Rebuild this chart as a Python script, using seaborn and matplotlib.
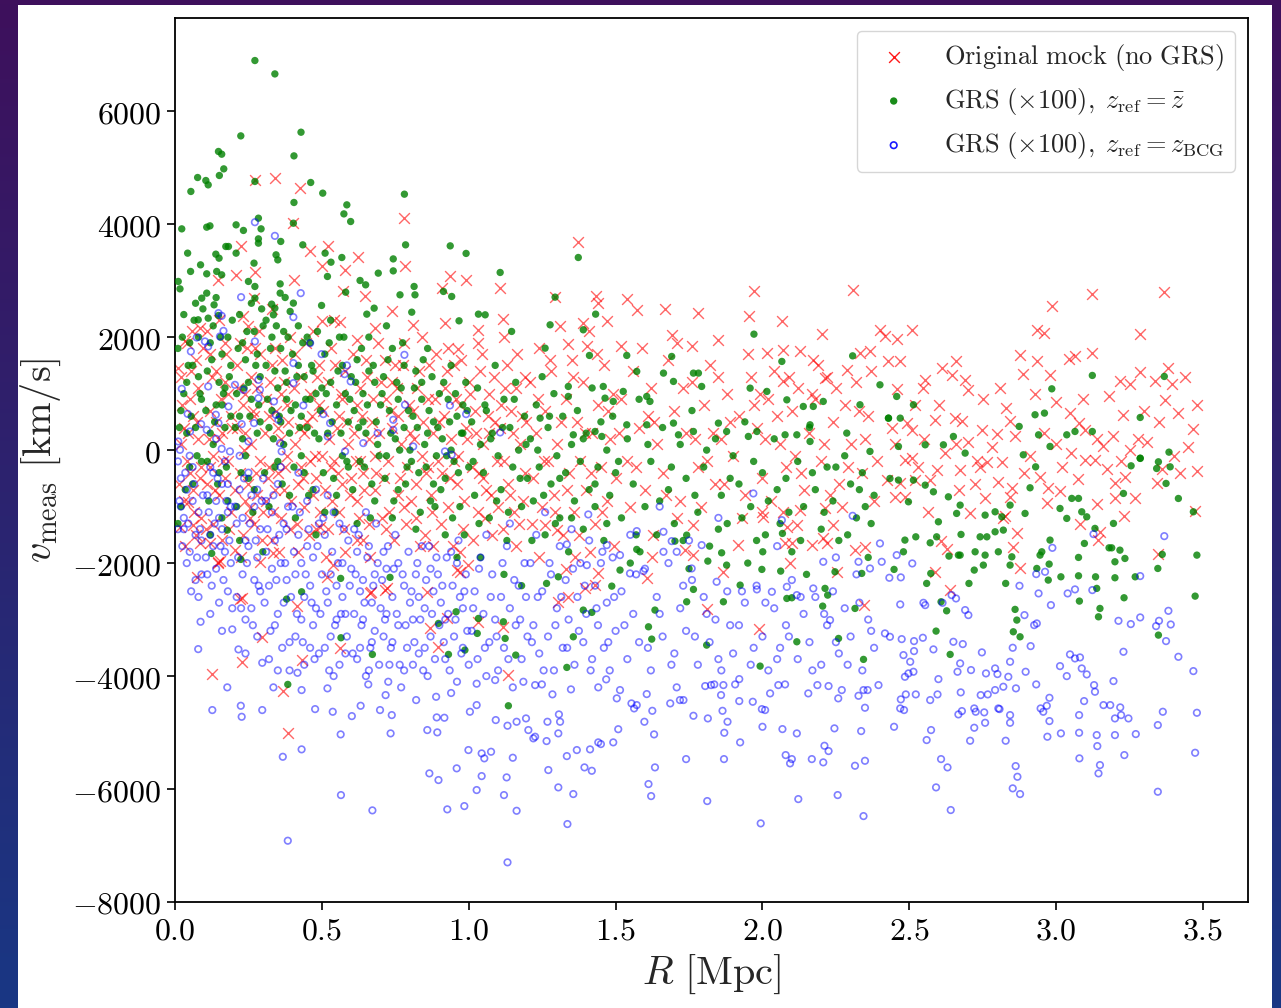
import numpy as np
import matplotlib
matplotlib.use("Agg")
import matplotlib.pyplot as plt
from matplotlib.patches import Rectangle
from matplotlib.ticker import FuncFormatter
import seaborn as sns

# ---------------- data (R [Mpc], v_meas [km/s]) ----------------
orig_pts = [
 (0.272,4790),(0.340,4814),(0.426,4637),(0.403,4017),(0.781,4106),(0.224,3605),(0.272,3150),(0.208,3092),(0.145,3014),
 (0.460,3517),(0.520,3605),(0.499,3251),(0.579,3191),(0.622,3410),(0.405,3003),(0.573,2809),(0.647,2720),(0.783,3251),
 (0.936,3074),(0.991,3014),(0.908,2867),(1.107,2867),(1.118,2318),(1.033,2130),(0.965,1793),(0.919,2248),(0.738,2455),
 (0.811,2218),(0.681,2159),(0.619,1952),(0.499,2278),(0.562,2265),(0.233,2366),(0.057,2101),(0.085,2159),(0.034,1924),
 (0.170,1894),(0.272,1805),(0.011,1451),
 (0.384,-5004),(0.127,-3965),(0.227,-3747),(0.297,-3305),(0.431,-3712),(0.367,-4261),(1.135,-3983),(0.221,-2643),
 (0.414,-2762),(0.153,-1965),(0.085,-1652),(0.074,-2243),(0.562,-3510),(0.664,-2537),(0.868,-3156),(0.925,-2980),
 (0.897,-3481),(0.335,-1829),(0.289,-1977),(0.516,-2243),(0.539,-2036),(0.619,-1593),(0.721,-2448),(0.857,-2508),
 (0.959,-2124),(0.119,-1652),(0.204,-1770),(0.045,-915),(0.017,-1357),(0.062,-1328),(0.148,-1977),(0.227,-2626),
 (0.255,-1033),(0.667,-2508),(0.715,-2478),(1.033,-3039),(1.118,-3128),(0.970,-2154),(0.999,-2036),(0.494,-1357),
 (0.02,1300),(0.03,400),(0.04,-200),(0.05,900),(0.06,-700),(0.07,1600),(0.08,200),(0.09,-1200),(0.03,-900),(0.06,600),
 (0.08,1100),(0.05,-400),(0.09,-300),(0.02,100),(0.07,-1500),(0.04,1900),
 (0.11,2100),(0.12,700),(0.13,-100),(0.14,1400),(0.15,-800),(0.16,300),(0.17,-500),(0.18,1000),(0.19,-1100),(0.11,-600),
 (0.12,1700),(0.13,-1300),(0.14,500),(0.15,200),(0.16,-1600),(0.17,1200),(0.18,-200),(0.19,600),(0.15,2300),(0.12,-300),
 (0.21,1500),(0.22,-400),(0.23,800),(0.24,-900),(0.25,2200),(0.26,100),(0.27,-1300),(0.28,1100),(0.29,-200),(0.21,400),
 (0.22,1900),(0.23,-1500),(0.24,300),(0.25,-600),(0.26,1300),(0.27,600),(0.28,-800),(0.29,1700),(0.30,-1100),(0.27,2700),
 (0.24,1000),
 (0.31,900),(0.32,-300),(0.33,1500),(0.34,-700),(0.35,400),(0.36,-1200),(0.37,1200),(0.38,-100),(0.39,2000),(0.31,-900),
 (0.32,600),(0.33,-1600),(0.34,1800),(0.35,-400),(0.36,200),(0.37,-700),(0.38,800),(0.39,-1400),(0.33,2500),(0.36,1000),
 (0.41,100),(0.42,-600),(0.43,1300),(0.44,-1000),(0.45,500),(0.46,-200),(0.47,2100),(0.48,-1400),(0.49,800),(0.41,1700),
 (0.42,-1800),(0.44,300),(0.46,1000),(0.48,-500),(0.50,-100),(0.43,-300),(0.47,-800),(0.49,1500),
 (0.51,-700),(0.52,1200),(0.53,-300),(0.54,2300),(0.55,400),(0.56,-1100),(0.57,900),(0.58,-1800),(0.59,100),(0.52,-1400),
 (0.54,-200),(0.56,600),(0.58,1400),(0.60,-500),(0.53,1800),(0.57,-600),
 (0.61,300),(0.62,-900),(0.63,1100),(0.64,-400),(0.65,1600),(0.66,-1300),(0.67,500),(0.68,-100),(0.69,1900),(0.62,800),
 (0.64,-1600),(0.66,200),(0.68,-700),(0.70,1200),(0.63,-200),
 (0.71,-500),(0.72,900),(0.73,-1100),(0.74,400),(0.75,1500),(0.76,-800),(0.77,100),(0.78,1900),(0.79,-300),(0.72,-1400),
 (0.74,1200),(0.76,600),(0.78,-1000),(0.80,300),
 (0.81,700),(0.82,-600),(0.83,1400),(0.84,-100),(0.85,-1500),(0.86,900),(0.87,-800),(0.88,300),(0.89,1700),(0.82,-1200),
 (0.84,2000),(0.86,-300),(0.88,-1700),(0.90,500),
 (0.91,-400),(0.92,1100),(0.93,-1000),(0.94,200),(0.95,1500),(0.96,-600),(0.97,800),(0.98,-1400),(0.99,400),(0.93,1800),
 (0.95,-200),(0.97,-1800),(1.00,1200),
 (1.01,-300),(1.02,700),(1.03,-1100),(1.04,1400),(1.05,100),(1.06,-700),(1.07,1000),(1.08,-1500),(1.09,500),(1.03,1900),
 (1.05,-500),(1.07,300),(1.10,-1000),
 (1.11,800),(1.12,-200),(1.13,1500),(1.14,-800),(1.15,300),(1.16,1100),(1.17,-1300),(1.18,600),(1.19,-400),(1.12,2000),
 (1.16,-1700),(1.19,1300),
 (1.21,1200),(1.22,-500),(1.23,300),(1.24,1800),(1.25,-1000),(1.26,700),(1.27,-200),(1.28,1400),(1.29,-800),(1.30,100),
 (1.31,2200),(1.32,-1500),(1.33,900),(1.34,-400),(1.35,1600),(1.36,-1100),(1.37,500),(1.38,-200),(1.39,1200),(1.40,-700),
 (1.41,2100),(1.42,300),(1.43,-1300),(1.44,800),(1.45,-300),(1.46,1500),(1.47,-900),(1.48,200),(1.49,1000),(1.50,-500),
 (1.24,-1900),(1.33,-2100),(1.44,2600),
 (1.373,3676),(1.294,2708),(1.432,2720),(1.470,2278),(1.388,2248),(1.339,1876),(1.402,1835),(1.260,-1328),(1.300,-1416),
 (1.305,-2685),(1.339,-2597),(1.396,-2448),(1.430,-2390),(1.362,-1889),(1.413,-1800),(1.441,-2183),
 (1.538,2672),(1.572,2483),(1.668,2501),(1.782,2425),(1.971,2819),(1.954,2366),(2.068,2278),(2.307,2837),(2.204,2058),
 (2.400,2130),(1.850,1952),(1.518,1835),(1.691,2040),(1.759,1835),(2.015,1717),(2.071,1775),(2.128,1747),(2.173,1598),
 (2.366,1747),(2.332,1717),(2.287,1421),(2.213,1274),(2.071,1216),(1.810,-2815),(1.989,-3169),(2.347,-2744),(2.253,-2165),
 (2.094,-2006),(1.867,-2154),(1.608,-2260),(1.623,-1889),(1.736,-1771),(1.765,-1859),(1.629,-1505),(1.918,-1682),
 (2.077,-1653),(2.100,-1653),(2.168,-1682),(2.207,-1564),(2.219,-1653),(2.315,-1771),(2.349,-1712),(2.241,-1328),
 (1.765,-1328),(1.708,-1209),(2.003,-1181),(1.998,-1092),(2.117,-1328),(2.128,-1062),(2.213,-1033),(2.083,-1357),
 (1.52,900),(1.54,-200),(1.56,1400),(1.58,400),(1.60,-700),(1.62,1100),(1.64,100),(1.66,-400),(1.68,1600),(1.70,700),
 (1.72,-900),(1.74,300),(1.76,1200),(1.78,-300),(1.80,800),(1.82,1500),(1.84,-600),(1.86,200),(1.88,1000),(1.90,-100),
 (1.92,600),(1.94,-800),(1.96,1300),(1.98,400),(2.00,-500),(2.02,900),(2.04,1400),(2.06,100),(2.08,-300),(2.10,700),
 (2.12,1100),(2.14,-700),(2.16,300),(2.18,900),(2.20,-200),(2.22,1300),(2.24,500),(2.26,-600),(2.28,800),(2.30,100),
 (2.32,1200),(2.34,-400),(2.36,600),(2.38,-900),(1.55,-1000),(1.63,500),(1.71,1900),(1.79,-1000),(1.87,-600),(1.95,1700),
 (2.03,-900),(2.11,-100),(2.19,1500),(2.27,-1000),(2.35,200),(1.59,1800),(1.83,300),(1.99,1000),(2.07,-1100),(2.23,-800),
 (3.121,2761),(3.368,2791),(2.985,2543),(2.934,2118),(2.960,2071),(3.286,2053),(2.510,2130),(2.457,1970),(2.417,2017),
 (2.877,1687),(2.934,1570),(3.042,1616),(3.064,1658),(3.123,1717),(2.429,1570),(2.469,1570),(2.659,1570),(2.610,1451),
 (2.644,1333),(2.554,1244),(2.548,1097),(2.690,1244),(2.701,1067),(2.888,1351),(2.979,1333),(3.286,1375),(3.382,1451),
 (3.217,1216),(3.252,1173),(3.337,1216),(3.394,1173),(2.928,991),(2.457,1085),(3.371,890),(3.416,655),(3.467,371),
 (3.229,626),(3.047,655),(3.076,478),(3.098,359),(3.195,242),(2.843,508),(2.798,283),(2.747,359),(2.656,566),(2.679,508),
 (2.491,478),(2.508,359),(2.588,537),
 (3.479,-372),(3.471,-1080),(3.348,-1841),(3.231,-1169),(3.149,-1446),(3.144,-1593),(3.081,-1316),(2.877,-2095),
 (2.854,-1712),(2.866,-1475),(2.639,-2478),(2.588,-2154),(2.608,-1611),(2.627,-1758),(2.565,-1103),(2.451,-827),
 (2.485,-827),(2.707,-1121),(2.826,-1169),(2.724,-607),(2.758,-855),(2.673,-354),(2.669,-708),(2.973,-678),(3.013,-726),
 (2.968,-944),(3.138,-961),(3.200,-845),(3.269,-845),(3.200,-590),(3.234,-473),(3.342,-590),(3.359,-337),(3.073,-519),
 (3.098,-177),(3.132,-177),(3.172,-342),(2.945,-473),(2.849,-678),(2.843,-827),(2.803,-561),(2.820,-1209),(2.741,-296),
 (2.764,-207),(2.815,-207),(2.485,-177),(2.508,-147),(2.520,-531),(2.571,-531),(2.593,-354),(2.469,-590),(2.423,-531),
 (2.45,100),(2.55,200),(2.62,-50),(2.70,150),(2.78,50),(2.86,250),(2.91,-100),(3.00,100),(3.05,-50),(3.16,80),(3.25,0),
 (3.31,150),(3.40,-100),(3.45,50),(2.52,800),(2.75,900),(2.83,750),(3.00,850),(3.18,950),(3.30,700),(3.44,1300),
]

orig_pts_core = [
 (0.015,-600),(0.025,800),(0.035,-1700),(0.045,300),(0.055,1400),(0.065,-1100),(0.075,500),(0.085,-500),(0.095,1800),
 (0.105,-1400),(0.115,200),(0.125,1300),(0.135,-700),(0.145,-2000),(0.155,900),(0.165,-200),(0.175,1700),(0.185,-1400),
 (0.195,400),(0.205,-700),(0.215,1100),(0.225,-1900),(0.235,0),(0.245,1800),(0.255,-1200),(0.265,700),(0.275,-400),
 (0.285,2100),(0.295,-1600),(0.305,300),(0.315,-500),(0.325,1200),(0.335,-1100),(0.345,700),(0.355,-1800),(0.365,1600),
 (0.375,-300),(0.385,500),(0.395,-900),(0.405,1100),(0.415,-1300),(0.425,400),(0.435,-500),(0.445,1900),(0.455,-1500),
 (0.465,600),(0.475,-100),(0.485,1300),(0.495,-1100),(0.505,700),(0.515,-1900),(0.525,200),(0.535,-900),(0.545,1500),
 (0.555,-400),(0.565,1000),(0.575,-1400),(0.585,500),(0.595,-800),(0.605,1700),(0.615,-200),(0.625,-1200),(0.635,600),
 (0.645,-700),(0.655,1300),(0.665,-1900),(0.675,900),(0.685,-400),(0.695,300),(0.705,-1200),(0.715,1600),(0.725,-200),
 (0.735,700),(0.745,-1600),(0.755,1100),(0.765,-500),(0.775,1500),(0.785,-1300),(0.795,800),(0.805,-900),(0.815,200),
 (0.825,1100),(0.835,-1700),(0.845,500),(0.855,-400),(0.865,1500),(0.875,-1100),(0.885,900),(0.895,-200),(0.905,-1300),
 (0.915,600),(0.925,1400),(0.935,-500),(0.945,-1700),(0.955,900),(0.965,-100),(0.975,1600),(0.985,-900),(0.995,200),
 (1.005,1000),(1.015,-1600),(1.025,300),(1.035,-400),(1.045,1700),(1.055,-1200),(1.065,600),(1.075,-800),(1.085,1300),
 (1.095,-200),(1.105,400),(1.115,-1400),(1.125,1100),(1.135,-600),(1.145,700),(1.155,-1100),(1.165,1700),(1.175,100),
 (1.185,-900),(1.195,500),(1.215,-1300),(1.235,900),(1.255,-200),(1.275,1600),(1.295,-1100),(1.315,500),(1.335,-700),
 (1.355,1300),(1.375,-1500),(1.395,300),(1.415,-400),(1.435,1700),(1.455,-1100),(1.475,700),(1.495,-1700),
 (1.51,300),(1.57,-300),(1.61,600),(1.67,-800),(1.73,1100),(1.77,200),(1.81,-200),(1.85,1300),(1.89,500),(1.93,-1200),
 (1.97,800),(2.01,200),(2.05,600),(2.09,1300),(2.13,-400),(2.17,1000),(2.21,100),(2.25,1100),(2.29,-300),(2.33,700),
 (2.37,1400),(2.39,-200),
 (2.44,400),(2.53,-300),(2.60,800),(2.66,100),(2.73,-200),(2.81,1100),(2.89,-400),(2.96,300),(3.02,-300),(3.09,900),
 (3.14,200),(3.22,-200),(3.28,200),(3.35,500),(3.42,-400),(3.48,800),
]

grs_zbar_pts = [
 (0.272,6897),(0.340,6660),(0.224,5563),(0.429,5628),(0.405,5209),(0.148,5287),(0.159,5239),(0.166,4979),(0.151,4862),
 (0.077,4826),(0.105,4773),(0.113,4696),(0.054,4579),(0.272,4756),(0.462,4738),(0.503,4549),(0.405,4384),(0.585,4342),
 (0.575,4182),(0.598,4047),(0.781,4531),(0.023,3917),(0.108,3947),(0.119,3970),(0.208,3988),(0.233,3889),(0.284,4106),
 (0.293,3917),(0.284,3740),(0.284,3664),(0.403,4017),(0.360,3694),(0.182,3605),(0.173,3605),(0.043,3487),(0.139,3469),
 (0.150,3398),(0.208,3487),(0.269,3310),(0.344,3457),(0.350,3368),(0.435,3634),(0.511,3487),(0.531,3327),(0.568,3410),
 (0.743,3385),(0.743,3173),(0.785,3634),(0.937,3616),(0.991,3482),(1.107,3145),(0.087,3280),(0.053,3163),(0.108,3121),
 (0.142,3163),(0.159,3103),(0.011,2986),(0.017,2855),(0.250,2986),(0.272,2897),(0.358,2943),(0.358,2779),(0.375,2702),
 (0.272,2690),(0.519,3074),(0.630,3003),(0.649,2926),(0.692,3133),(0.814,2897),(0.817,2749),(0.766,2749),(0.914,2809),
 (0.942,2720),(0.581,2796),(0.091,2690),(0.108,2779),(0.133,2572),(0.329,2584),(0.340,2513),(0.335,2395),(0.403,2602),
 (0.392,2455),(0.499,2561),(0.653,2407),(0.678,2513),(0.806,2442),(1.033,2407),(1.056,2395),(0.967,2289),(1.146,2101),
 (0.079,2307),(0.113,2336),(0.148,2384),
 (1.373,3410),(1.294,2708),(1.432,2407),(1.390,2130),(1.971,2053),(1.277,2218),(1.260,1805),(1.411,1676),(1.538,1676),
 (2.307,1669),(2.066,1570),(2.400,1156),(1.339,1127),(1.339,950),(1.572,1393),(1.606,950),(1.617,862),(1.663,1363),
 (1.691,1658),(1.697,1216),(1.765,1363),(1.782,1363),(1.793,1127),(1.458,1127),(1.526,1039),(1.464,920),(1.492,862),
 (1.958,1097),(2.015,1039),(2.083,890),(2.139,773),(2.173,773),(2.207,862),(2.332,803),(2.429,566),
 (1.243,566),(1.356,271),(1.430,330),(1.453,242),(1.538,448),(1.606,448),(1.697,478),(1.714,271),(1.765,330),(1.850,478),
 (1.878,330),(1.952,242),(1.981,330),(2.077,271),(2.117,271),(2.162,448),(2.162,153),(2.287,301),(2.366,-23),
 (3.123,1322),(2.985,1085),(3.368,1304),(2.960,655),(2.928,626),(3.286,578),(3.384,-36),(3.036,271),(3.064,330),
 (3.123,330),(2.940,271),(2.979,65),(2.888,-83),(2.874,419),(2.457,950),(2.514,803),(2.469,566),(2.429,566),(2.554,94),
 (2.616,94),(2.650,242),(2.690,-53),(2.463,65),(3.286,-142),
 (0.01,1800),(0.02,700),(0.03,2400),(0.04,1200),(0.05,-300),(0.06,1500),(0.07,400),(0.08,2000),(0.09,900),(0.02,-1000),
 (0.04,300),(0.06,-600),(0.08,1300),(0.03,1000),(0.07,2600),(0.09,-200),(0.01,-1300),(0.05,1900),
 (0.11,1400),(0.12,300),(0.13,2200),(0.14,800),(0.15,-400),(0.16,1700),(0.17,1100),(0.18,-900),(0.19,600),(0.11,-200),
 (0.12,1900),(0.13,100),(0.14,2700),(0.15,1200),(0.16,-1200),(0.17,400),(0.18,2000),(0.19,1500),(0.12,-1500),(0.16,800),
 (0.21,1000),(0.22,2400),(0.23,200),(0.24,1600),(0.25,-500),(0.26,900),(0.27,2100),(0.28,300),(0.29,1300),(0.21,-1000),
 (0.22,600),(0.23,1900),(0.24,-100),(0.25,1200),(0.26,2600),(0.27,-700),(0.28,1700),(0.29,500),(0.30,2200),(0.22,-1600),
 (0.31,1500),(0.32,400),(0.33,2000),(0.34,-300),(0.35,1100),(0.36,1800),(0.37,100),(0.38,900),(0.39,-800),(0.31,2300),
 (0.32,-1000),(0.33,700),(0.34,1400),(0.35,-200),(0.36,500),(0.37,2100),(0.38,1200),(0.39,300),(0.40,1700),
 (0.41,800),(0.42,2200),(0.43,-100),(0.44,1300),(0.45,400),(0.46,1900),(0.47,-700),(0.48,1000),(0.49,200),(0.41,-1200),
 (0.42,1500),(0.43,600),(0.44,-400),(0.45,2000),(0.46,900),(0.47,1400),(0.48,-1500),(0.50,1100),
 (0.51,1700),(0.52,300),(0.53,1200),(0.54,-500),(0.55,800),(0.56,2000),(0.57,-100),(0.58,1000),(0.59,500),(0.51,-1100),
 (0.53,2300),(0.55,-800),(0.57,1500),(0.59,-300),(0.60,1300),
 (0.61,700),(0.62,1600),(0.63,-200),(0.64,1000),(0.65,300),(0.66,2000),(0.67,-600),(0.68,1200),(0.69,100),(0.62,-1300),
 (0.64,500),(0.66,1400),(0.68,-900),(0.70,800),
 (0.71,1300),(0.72,-100),(0.73,700),(0.74,1800),(0.75,200),(0.76,-700),(0.77,1100),(0.78,400),(0.79,-300),(0.72,2200),
 (0.74,-1200),(0.76,900),(0.78,1500),(0.80,0),
 (0.81,600),(0.82,1400),(0.83,-400),(0.84,900),(0.85,100),(0.86,1800),(0.87,-900),(0.88,500),(0.89,-100),(0.82,-1400),
 (0.84,1200),(0.86,300),(0.88,-600),(0.90,1000),
 (0.91,200),(0.92,-500),(0.93,900),(0.94,1500),(0.95,-200),(0.96,600),(0.97,-1000),(0.98,300),(0.99,1200),(0.92,-1500),
 (0.94,0),(0.96,-1900),(0.98,800),(1.00,-300),
 (1.01,500),(1.02,-800),(1.03,1100),(1.04,100),(1.05,-400),(1.06,700),(1.07,-1200),(1.08,300),(1.09,1500),(1.10,-100),
 (1.11,-700),(1.12,900),(1.13,-1600),(1.14,400),(1.15,-300),(1.16,1200),(1.17,0),(1.18,-1000),(1.19,600),(1.20,-500),
 (1.04,-1900),(1.12,-2200),(1.18,-2400),
 (0.178,-1416),(0.224,-1935),(0.299,-1800),(0.380,-2638),(0.431,-2508),(0.565,-3322),(0.672,-3617),(0.931,-3617),
 (1.135,-4526),(1.124,-3334),(1.118,-3039),(0.957,-2862),(0.987,-3540),(0.897,-3068),(1.033,-2980),(1.029,-3245),
 (1.160,-3629),(0.732,-2253),(0.564,-2271),(0.125,-1829),(0.384,-4148),
 (1.21,200),(1.22,-900),(1.23,800),(1.24,-300),(1.25,1300),(1.26,-1500),(1.27,400),(1.28,-600),(1.29,1000),(1.30,-100),
 (1.31,-1200),(1.32,600),(1.33,-400),(1.34,-1800),(1.35,100),(1.36,-900),(1.37,700),(1.38,-200),(1.39,-1400),(1.40,300),
 (1.41,-700),(1.42,1100),(1.43,-1000),(1.44,-300),(1.45,500),(1.46,-1600),(1.47,0),(1.48,-800),(1.49,600),(1.50,-400),
 (1.52,-1200),(1.54,200),(1.56,-600),(1.58,900),(1.60,-1000),(1.62,-200),(1.64,-1500),(1.66,400),(1.68,-700),(1.70,-1300),
 (1.72,100),(1.74,-500),(1.76,700),(1.78,-1100),(1.80,-300),(1.82,-1700),(1.84,200),(1.86,-800),(1.88,-1300),(1.90,-100),
 (1.92,-600),(1.94,500),(1.96,-1000),(1.98,-1600),(2.00,-400),(2.02,-900),(2.04,200),(2.06,-1300),(2.08,-500),(2.10,-1800),
 (2.12,-200),(2.14,-1000),(2.16,400),(2.18,-700),(2.20,-1400),(2.22,-300),(2.24,-900),(2.26,-1600),(2.28,-100),(2.30,-600),
 (2.32,-1200),(2.34,-400),(2.36,-1900),(2.38,-800),(1.55,-2000),(1.75,-2100),(1.95,-2000),(2.15,-2200),(2.35,-1000),
 (1.334,-3847),(1.810,-3452),(1.992,-3824),(2.344,-3705),(2.259,-3334),(2.117,-3393),(1.356,-3305),(1.623,-3346),
 (1.612,-3128),(1.634,-2832),(1.742,-2685),(1.867,-2685),(1.765,-2466),(2.315,-2803),(2.205,-2762),(2.083,-2626),
 (2.100,-2614),(2.213,-2448),(2.222,-2567),(2.247,-2154),(2.338,-2183),(1.924,-2390),(1.998,-2112),(2.001,-1800),
 (2.062,-2142),(2.068,-1475),(1.861,-1818),(1.814,-1965),(1.878,-2036),(1.702,-1611),(1.742,-1505),(1.572,-1758),
 (1.583,-1800),(1.487,-2408),(1.515,-2124),(1.305,-2243),(1.265,-2360),(1.390,-2832),(1.419,-2873),
 (3.473,-2585),(3.479,-1859),(3.467,-1092),(3.416,-856),(3.374,-590),(3.388,-296),(3.342,-325),(3.348,-207),(3.286,-147),
 (3.346,-2095),(3.348,-3275),(3.361,-1846),(3.269,-2243),(3.231,-2614),(3.200,-1977),(3.217,-1771),(3.234,-1918),
 (3.200,-2260),(3.180,-1730),(3.189,-1730),(3.195,-1298),(3.229,-767),(3.255,-278),(3.132,-1386),(3.134,-2243),
 (3.138,-2448),(3.149,-2803),(3.144,-2951),(3.079,-2673),(3.076,-2225),(3.076,-1900),(3.096,-1652),(3.104,-1181),
 (3.087,-1092),(3.076,-855),(3.053,-855),(3.036,-1209),(3.013,-1033),(3.016,-2243),(2.976,-2018),(2.973,-2301),
 (2.979,-1593),(2.951,-1800),(2.945,-1859),(2.934,-2095),(2.854,-3216),(2.877,-3305),(2.866,-3009),(2.860,-2820),
 (2.843,-2036),(2.849,-1889),(2.828,-2360),(2.820,-1416),(2.792,-1446),(2.803,-1800),(2.758,-1859),(2.752,-2036),
 (2.724,-1800),(2.721,-2124),(2.703,-2360),(2.741,-1535),(2.764,-1535),(2.676,-1493),(2.673,-1859),(2.667,-1859),
 (2.635,-1876),(2.591,-3204),(2.639,-3617),(2.627,-2845),(2.608,-2685),(2.573,-2183),(2.559,-2360),(2.571,-1641),
 (2.593,-1535),(2.522,-1535),(2.485,-1593),(2.480,-1800),(2.448,-2112),(2.582,-738),(2.633,-827),(2.673,-974),
 (2.661,-1121),(2.599,-1269),(2.554,-620),(2.497,-915),(2.514,-531),(2.434,-502),(2.463,-531),(2.758,-1151),
 (2.792,-1092),(2.815,-1181),(2.843,-974),(2.894,-1121),(2.911,-667),(2.930,-296),
]

grs_zbar_pts_core = [
 (0.015,400),(0.025,2000),(0.035,-700),(0.045,1500),(0.055,600),(0.065,2300),(0.075,-100),(0.085,1000),(0.095,2500),
 (0.105,700),(0.115,-900),(0.125,1600),(0.135,500),(0.145,-600),(0.155,2000),(0.165,1000),(0.175,-300),(0.185,1300),
 (0.195,2300),(0.205,400),(0.215,1800),(0.225,-400),(0.235,1100),(0.245,2100),(0.255,600),(0.265,-1100),(0.275,1500),
 (0.285,800),(0.295,2500),(0.305,-400),(0.315,900),(0.325,1800),(0.335,200),(0.345,2200),(0.355,600),(0.365,-600),
 (0.375,1400),(0.385,2000),(0.395,700),(0.405,-300),(0.415,1300),(0.425,400),(0.435,1900),(0.445,900),(0.455,-800),
 (0.465,1500),(0.475,300),(0.485,2100),(0.495,700),(0.505,-400),(0.515,1000),(0.525,1900),(0.535,500),(0.545,-1100),
 (0.555,1400),(0.565,300),(0.575,2000),(0.585,-200),(0.595,900),(0.605,-700),(0.615,1200),(0.625,400),(0.635,1800),
 (0.645,-300),(0.655,800),(0.665,-1200),(0.675,1500),(0.685,500),(0.695,-100),(0.705,1000),(0.715,-500),(0.725,1600),
 (0.735,300),(0.745,-900),(0.755,1200),(0.765,0),(0.775,1900),(0.785,-600),(0.795,700),(0.805,-200),(0.815,1100),
 (0.825,400),(0.835,-1100),(0.845,1600),(0.855,-300),(0.865,700),(0.875,1300),(0.885,-1000),(0.895,400),(0.905,-700),
 (0.915,1200),(0.925,-100),(0.935,500),(0.945,-1200),(0.955,1000),(0.965,-400),(0.975,300),(0.985,-1500),(0.995,700),
 (1.015,-200),(1.035,-1300),(1.055,800),(1.075,200),(1.095,-900),(1.115,400),(1.135,-1100),(1.155,900),(1.175,-500),
 (1.195,100),(1.215,-1600),(1.235,0),(1.255,-800),(1.275,600),(1.295,-1300),
 (1.31,-500),(1.35,-1200),(1.39,200),(1.43,-600),(1.47,-1300),(1.51,-200),(1.57,-1500),(1.61,100),(1.65,-900),(1.69,-300),
 (1.73,-1600),(1.77,-800),(1.81,0),(1.85,-1400),(1.89,-500),(1.93,-1200),(1.97,-200),(2.01,-1500),(2.05,-700),(2.09,-1100),
 (2.13,-1600),(2.17,-400),(2.21,-1100),(2.25,-300),(2.29,-1500),(2.33,-700),(2.37,-1300),
]

grs_zbcg_pts = [
 (0.272,4035),(0.340,3793),(0.225,2708),(0.428,2779),(0.403,2354),(0.148,2425),(0.159,2377),(0.153,2012),(0.165,2111),
 (0.074,1994),(0.102,1924),(0.113,1835),(0.054,1747),(0.272,1924),(0.460,1894),(0.499,1699),(0.585,1499),(0.577,1345),
 (0.598,1216),(0.781,1687),(0.403,1540),(0.023,1085),(0.113,1127),(0.204,1156),(0.233,1067),(0.284,1244),(0.289,1067),
 (0.284,920),(0.403,1186),(0.437,791),(0.337,862),(0.182,773),(0.043,642),(0.051,330),(0.089,460),(0.108,359),
 (0.139,626),(0.148,478),(0.227,460),(0.269,478),(0.343,626),(0.352,537),(0.505,637),(0.528,478),(0.520,242),(0.579,-23),
 (0.641,124),(0.690,301),(0.743,537),(0.743,359),(0.783,803),(0.811,65),(0.919,-23),(0.942,-83),(0.936,791),(0.991,637),
 (1.107,313),(0.011,153),(0.017,5),(0.187,-23),(0.159,23),(0.250,153),(0.358,124),(0.363,-23),
 (0.01,-200),(0.02,-1000),(0.03,-1400),(0.04,-700),(0.05,-1800),(0.06,-300),(0.07,-2300),(0.08,-1100),(0.09,-1600),
 (0.02,-500),(0.04,-2000),(0.06,-900),(0.08,-2600),(0.03,-1200),(0.05,-100),(0.07,-1500),(0.09,-2200),(0.01,-1400),
 (0.11,-800),(0.12,-1500),(0.13,-400),(0.14,-2100),(0.15,-1200),(0.16,-600),(0.17,-1800),(0.18,-2500),(0.19,-1000),
 (0.11,-2200),(0.12,-300),(0.13,-1700),(0.14,-900),(0.15,-2700),(0.16,-1400),(0.17,-200),(0.18,-1100),(0.19,-2000),
 (0.12,-2900),(0.16,-3200),(0.14,200),(0.18,-600),
 (0.21,-1300),(0.22,-700),(0.23,-2200),(0.24,-1600),(0.25,-400),(0.26,-2800),(0.27,-1000),(0.28,-1900),(0.29,-2500),
 (0.21,-2600),(0.22,-100),(0.23,-1200),(0.24,-3000),(0.25,-1700),(0.26,-800),(0.27,-2300),(0.28,-3300),(0.29,-1400),
 (0.30,-500),(0.24,-3600),(0.28,-700),
 (0.31,-1800),(0.32,-2400),(0.33,-1100),(0.34,-3100),(0.35,-600),(0.36,-2000),(0.37,-2700),(0.38,-1400),(0.39,-3400),
 (0.31,-900),(0.32,-3700),(0.33,-2100),(0.34,-1600),(0.35,-2900),(0.36,-300),(0.37,-1300),(0.38,-2300),(0.39,-3900),
 (0.40,-1000),(0.35,-3900),
 (0.41,-2200),(0.42,-1500),(0.43,-3000),(0.44,-2600),(0.45,-900),(0.46,-3500),(0.47,-1900),(0.48,-2800),(0.49,-1300),
 (0.41,-3300),(0.42,-400),(0.43,-2000),(0.44,-3800),(0.45,-1700),(0.46,-2400),(0.47,-3100),(0.48,-700),(0.49,-3600),
 (0.50,-2200),
 (0.51,-1500),(0.52,-2700),(0.53,-3300),(0.54,-1100),(0.55,-2400),(0.56,-3800),(0.57,-2000),(0.58,-2900),(0.59,-1600),
 (0.51,-3500),(0.52,-800),(0.53,-2200),(0.54,-4000),(0.55,-3000),(0.56,-1300),(0.57,-2600),(0.58,-3600),(0.60,-2100),
 (0.61,-2900),(0.62,-1800),(0.63,-3500),(0.64,-2300),(0.65,-1100),(0.66,-3900),(0.67,-2700),(0.68,-3200),(0.69,-2000),
 (0.61,-1400),(0.62,-3700),(0.63,-2500),(0.64,-3000),(0.65,-4000),(0.66,-1700),(0.67,-3400),(0.68,-2200),(0.70,-2800),
 (0.71,-3300),(0.72,-2100),(0.73,-3800),(0.74,-2600),(0.75,-1500),(0.76,-3100),(0.77,-4200),(0.78,-2400),(0.79,-3500),
 (0.71,-1800),(0.72,-2900),(0.74,-3400),(0.76,-2000),(0.78,-3900),(0.80,-2700),
 (0.81,-3000),(0.82,-2200),(0.83,-3600),(0.84,-1700),(0.85,-2800),(0.86,-4000),(0.87,-3300),(0.88,-2500),(0.89,-1900),
 (0.81,-3800),(0.83,-2600),(0.85,-3500),(0.87,-2100),(0.90,-3100),
 (0.91,-2400),(0.92,-3700),(0.93,-2900),(0.94,-1800),(0.95,-3300),(0.96,-4100),(0.97,-2600),(0.98,-3500),(0.99,-2200),
 (0.92,-3000),(0.94,-4300),(0.96,-2000),(0.98,-2800),(1.00,-3800),
 (1.01,-3200),(1.02,-2500),(1.03,-3700),(1.04,-1900),(1.05,-2900),(1.06,-4000),(1.07,-3400),(1.08,-2200),(1.09,-3000),
 (1.10,-3900),(1.11,-2600),(1.12,-3500),(1.13,-1700),(1.14,-2800),(1.15,-4200),(1.16,-3100),(1.17,-2400),(1.18,-3700),
 (1.19,-2000),(1.20,-3300),(1.06,-1500),(1.14,-1300),
 (0.384,-6915),(0.565,-6107),(0.672,-6378),(1.132,-7298),(0.367,-5429),(0.431,-5298),(0.127,-4602),(0.224,-4526),
 (0.227,-4721),(0.297,-4602),(0.178,-4200),(0.297,-3765),(0.079,-3523),(0.216,-3528),(0.087,-3039),(0.195,-3174),
 (0.417,-3942),(0.335,-4200),(0.431,-4248),(0.477,-4585),(0.537,-4632),(0.602,-4709),(0.632,-4526),(0.564,-5033),
 (0.734,-5015),(0.698,-4602),(0.738,-4691),(0.658,-4148),(0.717,-4337),(0.726,-4101),(0.519,-4218),(0.821,-4425),
 (0.859,-4956),(0.893,-4997),(0.891,-4732),(0.866,-5723),(0.897,-5841),(0.959,-5634),(0.999,-5310),(1.044,-5369),
 (1.053,-5457),(1.076,-5340),(1.044,-5771),(1.027,-6018),(1.129,-5794),(1.120,-6107),(1.163,-6385),(0.985,-6302),
 (0.927,-6360),(1.132,-4879),(1.150,-5446),(1.163,-4809),(1.195,-4750),(1.203,-4956),(1.220,-5103),(1.004,-4632),
 (1.027,-4514),(1.092,-4779),(0.917,-4738),(0.889,-4367),(1.027,-4135),(1.090,-4071),(1.186,-4101),
 (1.21,-2000),(1.22,-3100),(1.23,-1500),(1.24,-3600),(1.25,-2500),(1.26,-1100),(1.27,-3300),(1.28,-2200),(1.29,-3900),
 (1.30,-2800),(1.31,-1700),(1.32,-3500),(1.33,-2300),(1.34,-3000),(1.35,-1400),(1.36,-3800),(1.37,-2600),(1.38,-2000),
 (1.39,-3400),(1.40,-2900),(1.41,-1600),(1.42,-3700),(1.43,-2400),(1.44,-3100),(1.45,-2000),(1.46,-3500),(1.47,-2700),
 (1.48,-3900),(1.49,-1900),(1.50,-3200),
 (1.52,-2500),(1.54,-3700),(1.56,-2900),(1.58,-3400),(1.60,-2100),(1.62,-3900),(1.64,-2600),(1.66,-3300),(1.68,-2000),
 (1.70,-3600),(1.72,-2800),(1.74,-3200),(1.76,-2300),(1.78,-3800),(1.80,-2600),(1.82,-3400),(1.84,-3000),(1.86,-3900),
 (1.88,-2500),(1.90,-3600),(1.92,-3100),(1.94,-2700),(1.96,-3800),(1.98,-2400),(2.00,-3300),(2.02,-3900),(2.04,-2800),
 (2.06,-3500),(2.08,-3100),(2.10,-2300),(2.12,-3700),(2.14,-2900),(2.16,-3400),(2.18,-2600),(2.20,-3800),(2.22,-3100),
 (2.24,-2500),(2.26,-3600),(2.28,-2800),(2.30,-3300),(2.32,-2200),(2.34,-3900),(2.36,-3000),(2.38,-3500),(1.55,-1500),
 (1.75,-1600),(1.85,-1200),(2.05,-1700),(2.25,-1900),(1.65,-1000),
 (1.969,-767),(2.307,-1163),(2.066,-1240),(2.400,-1652),(1.793,-1682),(1.691,-1611),(1.572,-1434),(1.663,-1446),
 (1.407,-1139),(1.334,-1670),(1.402,-2036),(1.470,-1682),(1.515,-1859),(1.549,-2183),(1.595,-2142),(1.663,-1800),
 (1.708,-1800),(1.759,-2095),(1.844,-2331),(1.981,-2466),(2.032,-2508),(2.083,-2420),(2.117,-2567),(2.173,-2449),
 (2.207,-1977),(2.230,-3009),(2.327,-1977),(2.366,-2095),(2.406,-1977),
 (1.336,-6620),(1.994,-6608),(2.344,-6479),(1.812,-6213),(2.122,-6178),(2.256,-6107),(1.305,-5971),(1.356,-6089),
 (1.612,-5912),(1.621,-6125),(1.271,-5664),(1.394,-5617),(1.419,-5677),(1.634,-5617),(1.740,-5470),(1.869,-5470),
 (1.334,-5417),(1.368,-5310),(1.413,-5298),(1.441,-5174),(1.450,-5204),(1.492,-5174),(1.226,-5074),(1.265,-5151),
 (1.305,-5015),(1.268,-4809),(1.311,-4809),(1.307,-4679),(1.509,-4941),(1.598,-4809),(1.631,-5033),(1.765,-4703),
 (1.814,-4750),(1.864,-4615),(1.881,-4809),(1.870,-5004),(1.924,-5174),(2.000,-4898),(2.068,-4939),(2.117,-5015),
 (2.079,-5399),(2.100,-5470),(2.094,-5546),(2.168,-5470),(2.207,-5528),(2.211,-5234),(2.225,-5328),(2.245,-4926),
 (2.315,-5588),(2.349,-5500),(2.336,-4974),(2.349,-4561),(1.563,-4573),(1.572,-4514),(1.625,-4615),(1.554,-4484),
 (1.285,-4324),(1.348,-4236),(1.226,-4160),(1.249,-4148),(1.441,-4200),(1.468,-4059),(1.504,-4395),(1.515,-4248),
 (1.606,-4319),(1.686,-4484),(1.719,-4425),(1.731,-4425),(1.708,-4200),(1.805,-4177),(1.825,-4160),(1.836,-4148),
 (1.867,-4160),(1.907,-4148),(1.921,-4054),(1.859,-4337),(1.921,-4443),(1.967,-4455),(1.998,-4585),(2.009,-4602),
 (2.026,-4307),(2.054,-4160),(2.077,-4148),(2.156,-4307),(2.187,-4160),(2.225,-4177),(2.258,-4395),(2.270,-4248),
 (2.327,-4349),(2.344,-4248),(2.358,-4248),(2.395,-4160),
 (2.641,-6372),(2.591,-5971),(2.608,-5470),(2.630,-5617),(2.852,-5988),(2.877,-6089),(2.862,-5594),(2.868,-5783),
 (3.346,-6048),(3.079,-5457),(3.149,-5576),(3.144,-5723),(3.232,-5399),(3.473,-5358),(2.559,-5133),(2.574,-4956),
 (2.448,-4898),(2.707,-5145),(2.828,-5145),(2.970,-5074),(3.016,-5015),(3.078,-5004),(3.138,-5045),(3.200,-5045),
 (3.271,-5027),(3.140,-5240),(3.346,-4868),(2.721,-4915),(2.758,-4827),(2.843,-4827),(2.843,-4691),(2.977,-4797),
 (3.078,-4691),(3.200,-4750),(3.221,-4691),(3.246,-4750),(3.363,-4632),(3.479,-4650),(2.469,-4573),(2.482,-4602),
 (2.471,-4413),(2.488,-4325),(2.522,-4325),(2.571,-4425),(2.596,-4325),(2.667,-4679),(2.679,-4620),(2.721,-4573),
 (2.726,-4632),(2.755,-4643),(2.803,-4573),(2.807,-4585),(2.675,-4289),(2.743,-4337),(2.767,-4325),(2.792,-4248),
 (2.820,-4189),(2.863,-4218),(2.932,-4148),(2.947,-4573),(2.956,-4632),(2.977,-4385),(2.968,-4526),(3.095,-4443),
 (3.129,-4160),(3.132,-4278),(3.161,-4514),(3.184,-4514),(3.218,-4555),(3.195,-4089),(2.599,-4054),(2.664,-3924),
 (2.673,-3776),(2.710,-3894),(2.761,-3953),(2.792,-3865),(2.800,-3965),(2.837,-4013),(2.843,-3747),(2.896,-3924),
 (2.485,-4013),(2.497,-3953),(2.514,-3924),(2.503,-3747),(2.480,-3629),(2.516,-3558),(2.582,-3528),(2.417,-3245),
 (2.434,-3305),(2.474,-3346),(2.516,-3381),(2.546,-3322),(2.650,-3393),(2.682,-3434),(2.747,-3581),(2.852,-3499),
 (2.913,-3470),(3.013,-3824),(3.036,-4001),(3.047,-3617),(3.064,-3688),(3.081,-3670),(3.087,-3865),(3.104,-3971),
 (3.229,-3570),(3.416,-3659),(3.467,-3912),(3.374,-3381),(3.212,-3022),(3.254,-3080),(3.286,-2962),(3.340,-3116),
 (3.350,-3022),(3.390,-3087),(3.382,-2845),(2.925,-3098),(2.934,-3068),(2.892,-2921),(2.982,-2744),(2.940,-2537),
 (3.039,-2537),(3.064,-2466),(3.123,-2478),(3.368,-1523),(3.286,-2230),(2.987,-1730),(2.932,-2195),(2.962,-2154),
 (2.875,-2402),(2.690,-2832),(2.701,-2921),(2.469,-2732),(2.548,-2703),(2.554,-2744),(2.613,-2703),(2.644,-2567),
 (2.659,-2626),(2.510,-2006),(2.432,-2260),(2.471,-2253),(2.457,-1859),(3.127,-1487),
]

grs_zbcg_pts_core = [
 (0.015,-900),(0.025,-1700),(0.035,-400),(0.045,-1300),(0.055,-2500),(0.065,-600),(0.075,-1900),(0.085,-1400),(0.095,-800),
 (0.105,-1900),(0.115,-1100),(0.125,-2400),(0.135,-1300),(0.145,-500),(0.155,-1700),(0.165,-2300),(0.175,-900),
 (0.185,-1600),(0.195,-2800),(0.205,-1000),(0.215,-1900),(0.225,-2800),(0.235,-500),(0.245,-2000),(0.255,-1300),
 (0.265,-3100),(0.275,-1600),(0.285,-2400),(0.295,-900),(0.305,-2700),(0.315,-1400),(0.325,-3200),(0.335,-800),
 (0.345,-2300),(0.355,-1500),(0.365,-3500),(0.375,-2000),(0.385,-1000),(0.395,-2600),(0.405,-1800),(0.415,-2900),
 (0.425,-1100),(0.435,-3400),(0.445,-2200),(0.455,-1400),(0.465,-2700),(0.475,-3700),(0.485,-1700),(0.495,-2900),
 (0.505,-1200),(0.515,-2500),(0.525,-3900),(0.535,-1800),(0.545,-3100),(0.555,-2000),(0.565,-2900),(0.575,-1400),
 (0.585,-3300),(0.595,-2400),(0.605,-3600),(0.615,-2200),(0.625,-1500),(0.635,-3100),(0.645,-2700),(0.655,-1900),
 (0.665,-3500),(0.675,-2400),(0.685,-1300),(0.695,-3800),(0.705,-2300),(0.715,-3000),(0.725,-1700),(0.735,-3500),
 (0.745,-2100),(0.755,-2900),(0.765,-3800),(0.775,-2200),(0.785,-3100),(0.795,-1800),(0.805,-2500),(0.815,-3400),
 (0.825,-2000),(0.835,-3000),(0.845,-3900),(0.855,-2300),(0.865,-1700),(0.875,-2900),(0.885,-3700),(0.895,-2200),
 (0.905,-2700),(0.915,-3400),(0.925,-1900),(0.935,-3900),(0.945,-2400),(0.955,-3000),(0.965,-1600),(0.975,-3600),
 (0.985,-2500),(0.995,-3200),(1.015,-2800),(1.035,-2100),(1.055,-3500),(1.075,-2600),(1.095,-3300),(1.115,-2000),
 (1.135,-3700),(1.155,-2300),(1.175,-3000),(1.195,-2600),(1.215,-3400),(1.235,-2600),(1.255,-3900),(1.275,-2000),
 (1.295,-3100),(1.315,-2600),(1.335,-3500),(1.355,-2100),(1.375,-3200),(1.395,-2400),(1.415,-3900),(1.435,-2800),
 (1.455,-1800),(1.475,-3400),(1.495,-2600),
 (1.53,-3100),(1.57,-2200),(1.61,-3500),(1.65,-2900),(1.69,-3800),(1.73,-2400),(1.77,-3300),(1.81,-2900),(1.85,-3700),
 (1.89,-3100),(1.93,-2500),(1.97,-3500),(2.01,-2700),(2.05,-3700),(2.09,-3300),(2.13,-2600),(2.17,-3900),(2.21,-2900),
 (2.25,-3400),(2.29,-3800),(2.33,-2700),(2.37,-3200),
]

labels = [
    r"$\mathrm{Original\ mock\ (no\ GRS)}$",
    r"$\mathrm{GRS\ (\times 100),}\;z_{\mathrm{ref}} = \bar{z}$",
    r"$\mathrm{GRS\ (\times 100),}\;z_{\mathrm{ref}} = z_{\mathrm{BCG}}$",
]
x_ticks = [0.0, 0.5, 1.0, 1.5, 2.0, 2.5, 3.0, 3.5]
y_ticks = [-8000, -6000, -4000, -2000, 0, 2000, 4000, 6000]

# ---------------- style ----------------
sns.set_style("ticks")
plt.rcParams["mathtext.fontset"] = "cm"
plt.rcParams["font.family"] = ["DejaVu Sans"]

W, H = 1281, 1008
fig = plt.figure(figsize=(W / 100, H / 100), dpi=100)

# slide background gradient
bg = fig.add_axes([0, 0, 1, 1], zorder=-10)
top = np.array([62, 16, 92]) / 255.0
bot = np.array([25, 55, 132]) / 255.0
t = np.linspace(0, 1, 256)[:, None]
grad = (top[None, :] * (1 - t) + bot[None, :] * t)[:, None, :]
bg.imshow(grad, aspect="auto", extent=[0, 1, 0, 1])
bg.set_axis_off()
fig.patches.append(Rectangle((18 / W, 0), (1272 - 18) / W, (1008 - 5) / H,
                             transform=fig.transFigure, facecolor="white",
                             edgecolor="none", zorder=-5))

ax = fig.add_axes([175 / W, 1 - 902 / H, (1248 - 175) / W, (902 - 18) / H])
ax.set_facecolor("white")

def split(pts):
    a = np.array(pts, dtype=float)
    return a[:, 0], a[:, 1]

r0, v0 = split(orig_pts + orig_pts_core)
r1, v1 = split(grs_zbar_pts + grs_zbar_pts_core)
r2, v2 = split(grs_zbcg_pts + grs_zbcg_pts_core)

sns.scatterplot(x=r0, y=v0, ax=ax, marker="x", color="red", s=60,
                linewidth=1.0, alpha=0.6, label=labels[0], zorder=2)
sns.scatterplot(x=r1, y=v1, ax=ax, marker="o", color="green", s=28,
                edgecolor="none", linewidth=0, alpha=0.8, label=labels[1], zorder=3)
sns.scatterplot(x=r2, y=v2, ax=ax, marker="o", color="blue", facecolor="none",
                edgecolor="blue", s=22, linewidth=1.2, alpha=0.5, label=labels[2], zorder=4)

ax.set_xlim(0, 3.653)
ax.set_ylim(-8000, 7650)
ax.set_xticks(x_ticks)
ax.set_yticks(y_ticks)
ax.xaxis.set_major_formatter(FuncFormatter(lambda x, p: f"${x:.1f}$"))
ax.yaxis.set_major_formatter(FuncFormatter(lambda y, p: f"${y:.0f}$"))
ax.tick_params(axis="both", direction="out", length=6, width=1.2, labelsize=23,
               colors="black", pad=4)
for sp in ax.spines.values():
    sp.set_visible(True)
    sp.set_color("black")
    sp.set_linewidth(1.3)

ax.set_xlabel(r"$R\ [\mathrm{Mpc}]$", fontsize=29, labelpad=4)
ax.set_ylabel(r"$v_{\mathrm{meas}}\ [\mathrm{km/s}]$", fontsize=29, labelpad=6)

leg = ax.legend(loc="upper right", fontsize=19, frameon=True, fancybox=True,
                framealpha=0.8, edgecolor="0.8", scatterpoints=1,
                handlelength=2.0, handletextpad=0.9, borderpad=0.4,
                labelspacing=0.5, borderaxespad=0.5)
for h in leg.legend_handles:
    h.set_alpha(0.9)

fig.savefig("out.png", dpi=100)
